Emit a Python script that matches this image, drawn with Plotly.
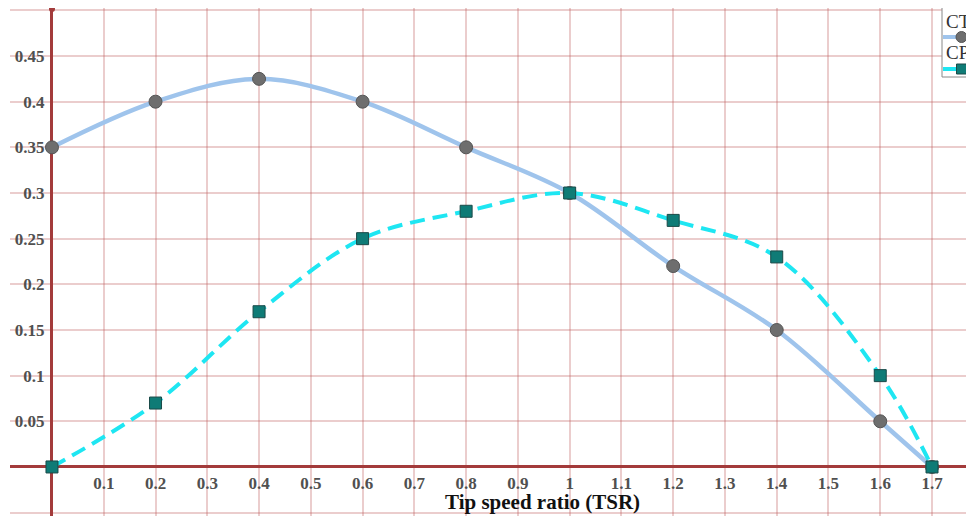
import plotly.graph_objects as go

tsr = [0, 0.2, 0.4, 0.6, 0.8, 1.0, 1.2, 1.4, 1.6, 1.7]
ct = [0.35, 0.40, 0.425, 0.40, 0.35, 0.30, 0.22, 0.15, 0.05, 0.0]
cp = [0.0, 0.07, 0.17, 0.25, 0.28, 0.30, 0.27, 0.23, 0.10, 0.0]

x_tickvals = [0.1, 0.2, 0.3, 0.4, 0.5, 0.6, 0.7, 0.8, 0.9, 1.0, 1.1, 1.2, 1.3, 1.4, 1.5, 1.6, 1.7]
x_ticktext = ["0.1", "0.2", "0.3", "0.4", "0.5", "0.6", "0.7", "0.8", "0.9", "1", "1.1", "1.2", "1.3", "1.4", "1.5", "1.6", "1.7"]
y_tickvals = [0.05, 0.1, 0.15, 0.2, 0.25, 0.3, 0.35, 0.4, 0.45]
y_ticktext = ["0.05", "0.1", "0.15", "0.2", "0.25", "0.3", "0.35", "0.4", "0.45"]

# page has an 8px body margin; size the figure to fill the visible window
OFF = 8
W, H = 974 - OFF, 516 - OFF
ML, MT = 2, 0
PW, PH = W - ML, H - MT


def px(p):
    return (p - OFF - ML) / PW


def py(p):
    return (H - (p - OFF)) / PH


GRID = "rgba(190,90,90,0.30)"
AXC = "#a33b3b"
FONT = "Liberation Serif, Times New Roman, serif"
TICKC = "#505050"
TICKFONT = dict(family=FONT, size=17, color=TICKC, weight="bold")

fig = go.Figure()
fig.add_trace(go.Scatter(
    x=tsr, y=ct, name="CT", mode="lines+markers",
    line=dict(color="#9fc4ec", width=4.5, shape="spline", smoothing=1.0),
    marker=dict(symbol="circle", size=13, color="#6e6e6e", line=dict(color="#555", width=1)),
))
fig.add_trace(go.Scatter(
    x=tsr, y=cp, name="CP", mode="lines+markers",
    line=dict(color="#1ee6f2", width=4, dash="15px,8px", shape="spline", smoothing=1.0),
    marker=dict(symbol="square", size=12, color="#0f7b76", line=dict(color="#1a4a48", width=1)),
))

fig.update_layout(
    width=W, height=H,
    margin=dict(l=ML, r=0, t=MT, b=0),
    paper_bgcolor="white", plot_bgcolor="white",
    showlegend=False,
    font=dict(family=FONT, size=16, color=TICKC),
    xaxis=dict(
        range=[-0.0811, 1.7811],
        showgrid=True, gridcolor=GRID, gridwidth=1.5,
        zeroline=True, zerolinecolor=AXC, zerolinewidth=2.5,
        showline=False,
        anchor="free", position=py(467),
        tickmode="array", tickvals=x_tickvals, ticktext=x_ticktext,
        ticks="outside", ticklen=1, tickcolor="rgba(0,0,0,0)",
        tickfont=TICKFONT,
    ),
    yaxis=dict(
        range=[-0.0537, 0.5026],
        showgrid=True, gridcolor=GRID, gridwidth=1.5,
        zeroline=True, zerolinecolor=AXC, zerolinewidth=2.5,
        showline=False,
        anchor="free", position=px(52),
        tickmode="array", tickvals=y_tickvals, ticktext=y_ticktext,
        ticks="outside", ticklen=4, tickcolor="rgba(0,0,0,0)",
        tickfont=TICKFONT,
    ),
)

fig.update_xaxes(minor=dict(tickvals=[-0.1, 1.8], showgrid=True, gridcolor=GRID, gridwidth=1.5))
fig.update_yaxes(minor=dict(tickvals=[-0.05, 0.5], showgrid=True, gridcolor=GRID, gridwidth=1.5))

# axis title
fig.add_annotation(
    text="<b>Tip speed ratio (TSR)</b>", x=px(542), y=py(502),
    xref="paper", yref="paper", xanchor="center", yanchor="middle", showarrow=False,
    font=dict(family=FONT, size=21, color="#111"),
)

# small dot at top of y axis
fig.add_shape(type="circle", xref="paper", yref="paper",
              x0=px(49), x1=px(55), y0=py(12), y1=py(6),
              fillcolor=AXC, line=dict(width=0))

# manual legend (clipped at right edge as in reference)
fig.add_shape(type="rect", xref="paper", yref="paper",
              x0=px(942), x1=px(990), y0=py(77), y1=py(5),
              fillcolor="white", line=dict(color="#888", width=1))
fig.add_annotation(text="CT", x=px(944), y=py(22), xref="paper", yref="paper",
                   xanchor="left", yanchor="middle", showarrow=False,
                   font=dict(family=FONT, size=19, color="#333"))
fig.add_annotation(text="CP", x=px(944), y=py(53), xref="paper", yref="paper",
                   xanchor="left", yanchor="middle", showarrow=False,
                   font=dict(family=FONT, size=19, color="#333"))
fig.add_shape(type="line", xref="paper", yref="paper",
              x0=px(943), x1=px(974), y0=py(37), y1=py(37),
              line=dict(color="#9fc4ec", width=4))
fig.add_shape(type="circle", xref="paper", yref="paper",
              x0=px(956), x1=px(967), y0=py(42.5), y1=py(31.5),
              fillcolor="#6e6e6e", line=dict(color="#555", width=1))
fig.add_shape(type="line", xref="paper", yref="paper",
              x0=px(943), x1=px(974), y0=py(69), y1=py(69),
              line=dict(color="#1ee6f2", width=4))
fig.add_shape(type="rect", xref="paper", yref="paper",
              x0=px(956.5), x1=px(966.5), y0=py(74), y1=py(64),
              fillcolor="#0f7b76", line=dict(color="#1a4a48", width=1))

fig.write_html("out.html")
